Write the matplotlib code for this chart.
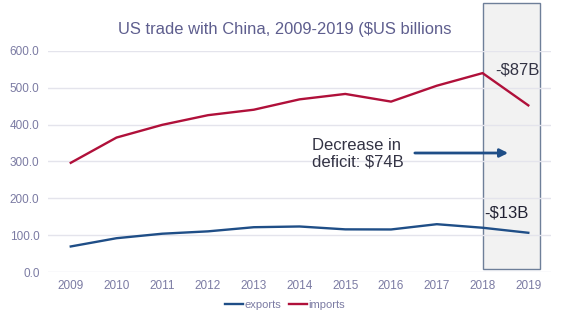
import numpy as np
import matplotlib.pyplot as plt
from matplotlib.patches import Rectangle

plt.rcParams['font.family'] = ['Liberation Sans', 'DejaVu Sans']

years = ["2009", "2010", "2011", "2012", "2013", "2014", "2015", "2016", "2017", "2018", "2019"]
exports = [69.5, 91.9, 104.1, 110.5, 121.7, 123.7, 115.9, 115.6, 129.9, 120.3, 106.6]
imports = [296.4, 364.9, 399.4, 425.6, 440.4, 468.5, 483.2, 462.4, 505.5, 539.7, 452.2]
yticks = [0, 100, 200, 300, 400, 500, 600]

title_col = "#5e5e8e"
tick_col = "#7b7ba3"
exp_col = "#1f4e87"
imp_col = "#b0103a"

fig = plt.figure(figsize=(5.7, 3.22), dpi=100)
ax = fig.add_axes([0.084, 0.155, 0.883, 0.687])

x = np.arange(len(years))
ax.set_xlim(-0.5, len(years) - 0.5)
ax.set_ylim(0, 600)

# highlighted 2018-2019 box
box = Rectangle((9, 8), 1.26, 722, facecolor="#f2f2f2", edgecolor="#6e7f99",
                linewidth=1.0, clip_on=False, zorder=1)
ax.add_patch(box)

ax.plot(x, exports, color=exp_col, lw=1.7, label="exports", zorder=3)
ax.plot(x, imports, color=imp_col, lw=1.7, label="imports", zorder=3)

ax.set_yticks(yticks)
ax.set_yticklabels([f"{v:.1f}" for v in yticks])
ax.set_xticks(x)
ax.set_xticklabels(years)
ax.tick_params(axis="both", length=0, labelsize=8.5, colors=tick_col, pad=6)
ax.grid(axis="y", color="#e4e4ec", lw=1.0, zorder=0)
for s in ax.spines.values():
    s.set_visible(False)

fig.text(0.5, 0.907, "US trade with China, 2009-2019 ($US billions", ha="center",
         va="center", fontsize=11.9, color=title_col)

ax.text(9.27, 548, "-$87B", fontsize=12, color="#333344", va="center")
ax.text(9.03, 160, "-$13B", fontsize=12, color="#222233", va="center")
ax.text(5.27, 321, "Decrease in\ndeficit: $74B", fontsize=12, color="#333344",
        va="center", ha="left", linespacing=1.15)
ax.annotate("", xy=(9.62, 323), xytext=(7.46, 323),
            arrowprops=dict(arrowstyle="-|>", color=exp_col, lw=2, mutation_scale=12))

fig.legend(loc="center", bbox_to_anchor=(0.5, 0.053), ncol=2, frameon=False,
           fontsize=8, labelcolor=tick_col, handlelength=1.6, handletextpad=0.15,
           columnspacing=0.7)

fig.savefig("out.png", dpi=100)
